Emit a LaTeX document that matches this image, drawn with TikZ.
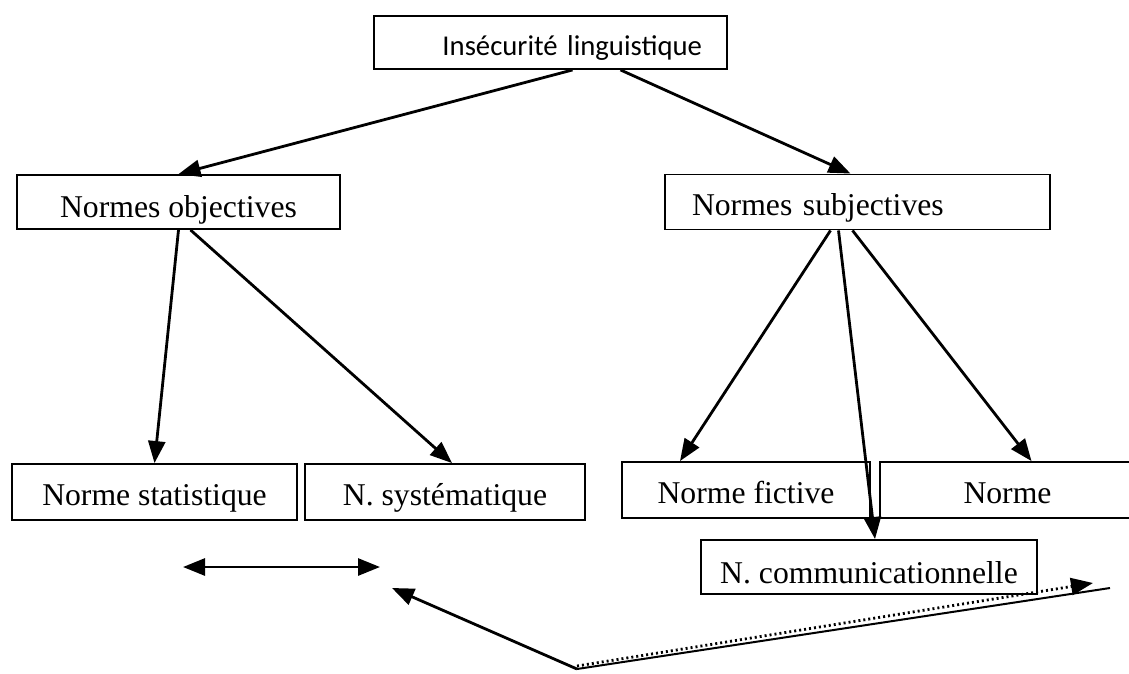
\documentclass[tikz,border=0pt]{standalone}
\usepackage{fontspec}
\setmainfont{Liberation Serif}
\newfontfamily\calibri{Carlito}
\usetikzlibrary{arrows.meta}
\tikzset{>={Triangle[length=22pt,width=17pt]}}
\tikzset{
  box/.style={draw,line width=1.9pt,inner sep=0pt,
    font=\fontsize{31.7}{38}\selectfont},
}

\begin{document}
\begin{tikzpicture}[x=1pt,y=-1pt,line width=2.8pt]
      \useasboundingbox (0,0) rectangle (1129,673);

      \node[box,font=\calibri\fontsize{28.7}{34}\selectfont,text width=303pt,inner xsep=25pt,align=right,text height=39pt,text depth=14pt](insec) at (550.5,42.5) {Insécurité linguistique};

      \node[box,minimum width=323pt,text height=42pt,text depth=12pt](obj) at (178.5,202) {Normes objectives};
      \node[box,text width=331pt,inner xsep=27pt,align=left,text height=41pt,text depth=14pt](subj) at (857.5,202) {Normes subjectives};

      \node[box,minimum width=285pt,text height=41pt,text depth=15pt](stat) at (154.5,492) {Norme statistique};
      \node[box,minimum width=280pt,text height=41pt,text depth=15pt](syst) at (445,492) {N. systématique};
      \node[box,minimum width=248pt,text height=41pt,text depth=15pt](fict) at (746,490) {Norme fictive};
      \node[box,minimum width=255pt,text height=41pt,text depth=15pt](norme) at (1007.5,490) {Norme};
      \node[box,minimum width=336pt,text height=43pt,text depth=11pt](comm) at (869,567) {N. communicationnelle};

      \draw[->] ([xshift=22pt]insec.south) -- (obj.north);
      \draw[->] ([xshift=70pt]insec.south) -- ([xshift=-7pt]subj.north);

      \draw[->] (obj.south) -- (stat.north);
      \draw[->] ([xshift=12pt]obj.south) -- ([xshift=7pt]syst.north);

      \draw[->] ([xshift=-27pt]subj.south) -- ([xshift=-66pt]fict.north);
      \draw[->] ([xshift=-19pt]subj.south) -- ([xshift=6pt]comm.north);
      \draw[->] ([xshift=-5pt]subj.south) -- ([xshift=24pt]norme.north);

      % bottom
      \coordinate (dl) at (183,567);
      \coordinate (dr) at (380,567);
      \draw[<->] (dl) -- (dr);

      \coordinate (vtx) at (577,669);
      \coordinate (vl) at (392,588);
      \coordinate (vr) at (1110,588);
      \coordinate (vd) at (1093,583);
      \draw[->] (vtx) -- (vl);
      \draw[line width=2pt] (vtx) -- (vr);
      \draw[->,dash pattern=on 2pt off 3pt] ([yshift=3pt]vtx) -- (vd);
\end{tikzpicture}
\end{document}
